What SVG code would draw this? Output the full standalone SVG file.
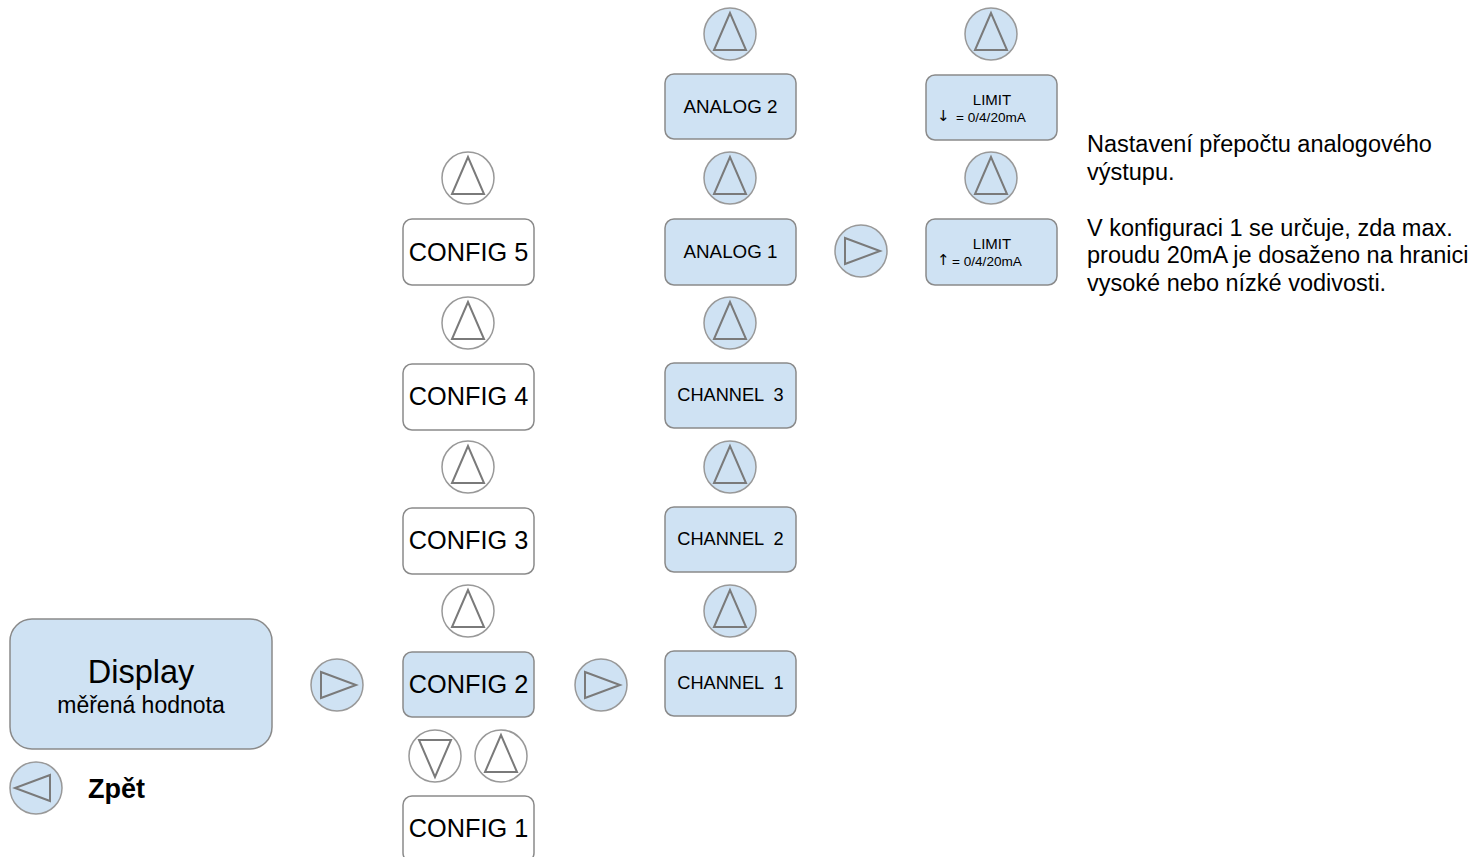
<svg xmlns="http://www.w3.org/2000/svg" width="1484" height="857" viewBox="0 0 1484 857">
<defs>
<style>
.box{stroke:#8a8a8a;stroke-width:1.5}
.blue{fill:#cfe2f3}
.white{fill:#ffffff}
.btn{stroke:#999999;stroke-width:1.5}
.tri{fill:none;stroke:#7a7a7a;stroke-width:2;stroke-linejoin:miter}
.t{font-family:"Liberation Sans",Arial,sans-serif;fill:#000;text-anchor:middle}
.cfg{font-size:25.3px}
.ana{font-size:18.8px}
.ch{font-size:18.2px}
.note{font-family:"Liberation Sans",Arial,sans-serif;font-size:23.5px;fill:#000}
.sm{font-family:"Liberation Sans",Arial,sans-serif;font-size:13.6px;fill:#000}
.arr{font-family:"DejaVu Sans",sans-serif;font-size:15px;fill:#000}
</style>
<g id="up"><path class="tri" d="M0,-21 L-16,16 L16,16 Z"/></g>
<g id="down"><path class="tri" d="M0,21 L-16,-16 L16,-16 Z"/></g>
<g id="right"><path class="tri" d="M-14,-13 L21,0 L-14,13 Z"/></g>
<g id="left"><path class="tri" d="M14,-13 L-21,0 L14,13 Z"/></g>
</defs>
<rect width="1484" height="857" fill="#ffffff"/>
<g id="connectors"/>

<g id="display">
<rect class="box blue" x="10" y="619" width="262" height="130" rx="22"/>
<text class="t" x="141" y="683" font-size="32.5">Display</text>
<text class="t" x="141" y="713" font-size="23">měřená hodnota</text>
</g>
<g id="btn-back">
<circle class="btn blue" cx="36" cy="788" r="26"/>
<use href="#left" x="36" y="788"/>
<text x="88" y="798" font-family="Liberation Sans,Arial,sans-serif" font-size="27" font-weight="bold">Zpět</text>
</g>
<g id="btn-right1"><circle class="btn blue" cx="337" cy="685" r="26"/><use href="#right" x="335" y="685"/></g>
<g id="btn-right2"><circle class="btn blue" cx="601" cy="685" r="26"/><use href="#right" x="599" y="685"/></g>
<g id="btn-right3"><circle class="btn blue" cx="861" cy="251" r="26"/><use href="#right" x="859" y="251"/></g>

<g id="config5"><rect class="box white" x="403" y="219" width="131" height="66" rx="9"/><text class="t cfg" x="468.500" y="261">CONFIG 5</text></g>
<g id="config4"><rect class="box white" x="403" y="364" width="131" height="66" rx="9"/><text class="t cfg" x="468.500" y="405">CONFIG 4</text></g>
<g id="config3"><rect class="box white" x="403" y="508" width="131" height="66" rx="9"/><text class="t cfg" x="468.500" y="549">CONFIG 3</text></g>
<g id="config2"><rect class="box blue" x="403" y="652" width="131" height="65" rx="9"/><text class="t cfg" x="468.500" y="693">CONFIG 2</text></g>
<g id="config1"><rect class="box white" x="403" y="796" width="131" height="66" rx="9"/><text class="t cfg" x="468.500" y="837">CONFIG 1</text></g>

<g id="btn-c-up5"><circle class="btn white" cx="468" cy="178" r="26"/><use href="#up" x="468" y="178"/></g>
<g id="btn-c-up4"><circle class="btn white" cx="468" cy="323" r="26"/><use href="#up" x="468" y="323"/></g>
<g id="btn-c-up3"><circle class="btn white" cx="468" cy="467" r="26"/><use href="#up" x="468" y="467"/></g>
<g id="btn-c-up2"><circle class="btn white" cx="468" cy="611" r="26"/><use href="#up" x="468" y="611"/></g>
<g id="btn-c-down1"><circle class="btn white" cx="435" cy="756" r="26"/><use href="#down" x="435" y="756"/></g>
<g id="btn-c-up1"><circle class="btn white" cx="501" cy="756" r="26"/><use href="#up" x="501" y="756"/></g>

<g id="analog2"><rect class="box blue" x="665" y="74" width="131" height="65" rx="9"/><text class="t ana" x="730.500" y="113">ANALOG 2</text></g>
<g id="analog1"><rect class="box blue" x="665" y="219" width="131" height="66" rx="9"/><text class="t ana" x="730.500" y="258">ANALOG 1</text></g>
<g id="channel3"><rect class="box blue" x="665" y="363" width="131" height="65" rx="9"/><text class="t ch" x="730.500" y="401" xml:space="preserve">CHANNEL  3</text></g>
<g id="channel2"><rect class="box blue" x="665" y="507" width="131" height="65" rx="9"/><text class="t ch" x="730.500" y="545" xml:space="preserve">CHANNEL  2</text></g>
<g id="channel1"><rect class="box blue" x="665" y="651" width="131" height="65" rx="9"/><text class="t ch" x="730.500" y="689" xml:space="preserve">CHANNEL  1</text></g>

<g id="btn-a-up6"><circle class="btn blue" cx="730" cy="34" r="26"/><use href="#up" x="730" y="34"/></g>
<g id="btn-a-up5"><circle class="btn blue" cx="730" cy="178" r="26"/><use href="#up" x="730" y="178"/></g>
<g id="btn-a-up4"><circle class="btn blue" cx="730" cy="323" r="26"/><use href="#up" x="730" y="323"/></g>
<g id="btn-a-up3"><circle class="btn blue" cx="730" cy="467" r="26"/><use href="#up" x="730" y="467"/></g>
<g id="btn-a-up2"><circle class="btn blue" cx="730" cy="611" r="26"/><use href="#up" x="730" y="611"/></g>

<g id="limit-low"><rect class="box blue" x="926" y="75" width="131" height="65" rx="9"/>
<text class="t" x="992" y="105" font-size="15">LIMIT</text>
<text class="arr" x="937" y="121">↓</text>
<text class="sm" x="956" y="122">= 0/4/20mA</text></g>
<g id="limit-high"><rect class="box blue" x="926" y="219" width="131" height="66" rx="9"/>
<text class="t" x="992" y="249" font-size="15">LIMIT</text>
<text class="arr" x="937" y="265">↑</text>
<text class="sm" x="952" y="266">= 0/4/20mA</text></g>
<g id="btn-l-up2"><circle class="btn blue" cx="991" cy="34" r="26"/><use href="#up" x="991" y="34"/></g>
<g id="btn-l-up1"><circle class="btn blue" cx="991" cy="178" r="26"/><use href="#up" x="991" y="178"/></g>

<g id="notes">
<text class="note" x="1087" y="152">Nastavení přepočtu analogového</text>
<text class="note" x="1087" y="180">výstupu.</text>
<text class="note" x="1087" y="236">V konfiguraci 1 se určuje, zda max.</text>
<text class="note" x="1087" y="263">proudu 20mA je dosaženo na hranici</text>
<text class="note" x="1087" y="291">vysoké nebo nízké vodivosti.</text>
</g>
</svg>
